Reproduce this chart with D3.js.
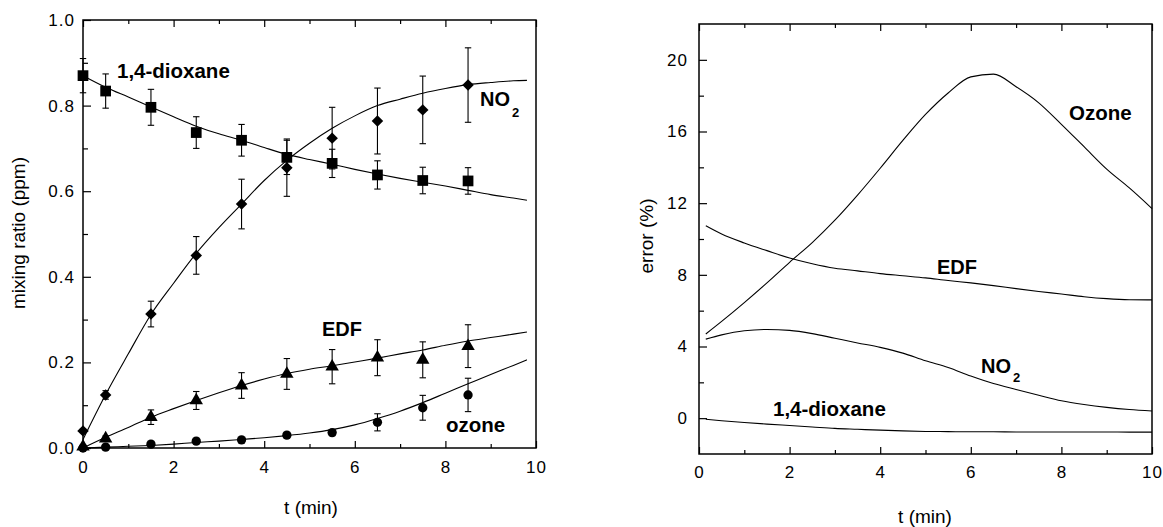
<!DOCTYPE html>
<html>
<head>
<meta charset="utf-8">
<script src="https://cdn.jsdelivr.net/npm/d3@7"></script>
<style>
  html, body { margin: 0; padding: 0; background: #fff; }
  svg { display: block; }
  .tick text { font-family: "Liberation Sans", Arial, sans-serif; font-size: 17px; fill: #000; letter-spacing: 1px; }
  .lbl { font-family: "Liberation Sans", Arial, sans-serif; font-weight: bold; fill: #000; }
  .title { font-family: "Liberation Sans", Arial, sans-serif; font-size: 19px; fill: #000; }
</style>
</head>
<body>
<svg id="chart" width="1163" height="527"></svg>
<script>
// ---------- Left panel: measured points ----------
const tObs = [0, 0.5, 1.5, 2.5, 3.5, 4.5, 5.5, 6.5, 7.5, 8.5];
const dioxaneObs = [0.870, 0.834, 0.796, 0.737, 0.719, 0.679, 0.665, 0.638, 0.625, 0.624];
const dioxaneErr = [0.040, 0.040, 0.042, 0.037, 0.037, 0.040, 0.033, 0.033, 0.031, 0.031];
const no2Obs = [0.040, 0.124, 0.313, 0.450, 0.570, 0.655, 0.724, 0.764, 0.790, 0.848];
const no2Err = [0.004, 0.010, 0.030, 0.044, 0.058, 0.067, 0.072, 0.077, 0.079, 0.087];
const edfObs = [0.003, 0.022, 0.072, 0.111, 0.146, 0.173, 0.190, 0.211, 0.206, 0.238];
const edfErr = [0.000, 0.006, 0.017, 0.021, 0.030, 0.036, 0.040, 0.042, 0.042, 0.050];
const ozoneObs = [0.000, 0.002, 0.009, 0.016, 0.019, 0.030, 0.036, 0.060, 0.094, 0.124];
const ozoneErr = [0.000, 0.000, 0.003, 0.004, 0.004, 0.005, 0.007, 0.020, 0.029, 0.039];

// ---------- Left panel: model curves ----------
const tFit = [0, 0.5, 1, 1.5, 2, 2.5, 3, 3.5, 4, 4.5, 5, 5.5, 6, 6.5, 7, 7.5, 8, 8.5, 9, 9.5, 9.8];
const dioxaneFit = [0.870, 0.843, 0.820, 0.797, 0.774, 0.752, 0.734, 0.719, 0.702, 0.686, 0.674, 0.663, 0.651, 0.640, 0.630, 0.621, 0.612, 0.602, 0.592, 0.584, 0.579];
const no2Fit = [0.020, 0.125, 0.220, 0.312, 0.385, 0.455, 0.515, 0.570, 0.625, 0.672, 0.712, 0.747, 0.776, 0.800, 0.815, 0.829, 0.840, 0.849, 0.854, 0.858, 0.859];
const edfFit = [0.000, 0.025, 0.048, 0.072, 0.092, 0.111, 0.129, 0.146, 0.161, 0.174, 0.184, 0.192, 0.201, 0.210, 0.220, 0.229, 0.240, 0.250, 0.258, 0.266, 0.271];
const ozoneFit = [0.000, 0.002, 0.004, 0.006, 0.009, 0.013, 0.016, 0.020, 0.024, 0.029, 0.035, 0.043, 0.054, 0.069, 0.086, 0.106, 0.128, 0.150, 0.172, 0.193, 0.206];

// ---------- Right panel: error curves ----------
const tErr = [0.15, 0.5, 1, 1.5, 2, 2.5, 3, 3.5, 4, 4.5, 5, 5.5, 6, 6.5, 7, 7.5, 8, 8.5, 9, 9.5, 10];
const ozoneErrPct = [4.7, 5.4, 6.45, 7.55, 8.7, 9.8, 11.05, 12.45, 13.95, 15.5, 16.95, 18.15, 19.05, 19.2, 18.5, 17.6, 16.4, 15.15, 13.9, 12.85, 11.7];
const edfErrPct = [10.74, 10.28, 9.78, 9.35, 8.94, 8.62, 8.37, 8.22, 8.07, 7.95, 7.83, 7.68, 7.55, 7.40, 7.23, 7.07, 6.93, 6.78, 6.67, 6.61, 6.6];
const no2ErrPct = [4.41, 4.65, 4.88, 4.95, 4.9, 4.72, 4.46, 4.2, 3.95, 3.63, 3.2, 2.83, 2.35, 1.93, 1.6, 1.28, 0.97, 0.76, 0.6, 0.48, 0.4];
const dioxaneErrPct = [-0.06, -0.14, -0.24, -0.33, -0.41, -0.49, -0.57, -0.62, -0.67, -0.71, -0.74, -0.75, -0.76, -0.76, -0.77, -0.77, -0.77, -0.77, -0.77, -0.78, -0.78];

// ---------- Tick labels ----------
const xTicks = [0, 2, 4, 6, 8, 10];
const xMinor = [1, 3, 5, 7, 9];
const yTicksL = [0, 0.2, 0.4, 0.6, 0.8, 1.0];
const yMinorL = [0.1, 0.3, 0.5, 0.7, 0.9];
const yTicksR = [0, 4, 8, 12, 16, 20];
const yMinorR = [-2, 2, 6, 10, 14, 18, 22];

const svg = d3.select("#chart");

function frame(g, x, y, yt, ym, fmt, padX, padY) {
  const [x0, x1] = x.range(), [y0, y1] = y.range();
  g.append("g").attr("transform", `translate(0,${y0})`)
    .call(d3.axisBottom(x).tickValues(xTicks).tickSize(-7).tickPadding(padX).tickFormat(d3.format("d")))
    .call(a => a.select(".domain").remove());
  g.append("g").attr("transform", `translate(0,${y0})`)
    .call(d3.axisBottom(x).tickValues(xMinor).tickSize(-4).tickFormat(""))
    .call(a => a.select(".domain").remove());
  g.append("g").attr("transform", `translate(0,${y1})`)
    .call(d3.axisTop(x).tickValues(xTicks).tickSize(-7).tickFormat(""))
    .call(a => a.select(".domain").remove());
  g.append("g").attr("transform", `translate(0,${y1})`)
    .call(d3.axisTop(x).tickValues(xMinor).tickSize(-4).tickFormat(""))
    .call(a => a.select(".domain").remove());
  g.append("g").attr("transform", `translate(${x0},0)`)
    .call(d3.axisLeft(y).tickValues(yt).tickSize(-8).tickPadding(padY).tickFormat(fmt))
    .call(a => a.select(".domain").remove());
  g.append("g").attr("transform", `translate(${x0},0)`)
    .call(d3.axisLeft(y).tickValues(ym.filter(v => v > y.domain()[0] && v < y.domain()[1])).tickSize(-5).tickFormat(""))
    .call(a => a.select(".domain").remove());
  g.selectAll(".tick line").attr("stroke", "#000").attr("stroke-width", 1.2);
  g.append("rect").attr("x", x0).attr("y", y1).attr("width", x1 - x0).attr("height", y0 - y1)
    .attr("fill", "none").attr("stroke", "#000").attr("stroke-width", 1.5);
}

// ---------- Left panel ----------
const xL = d3.scaleLinear().domain([0, 10]).range([83, 536]);
const yL = d3.scaleLinear().domain([0, 1]).range([448, 20]);
const gL = svg.append("g");
frame(gL, xL, yL, yTicksL, yMinorL, d3.format(".1f"), 13, 8);

const lineL = d3.line().x(d => xL(d[0])).y(d => yL(d[1])).curve(d3.curveMonotoneX);
[dioxaneFit, no2Fit, edfFit, ozoneFit].forEach(arr => {
  gL.append("path").attr("d", lineL(tFit.map((t, i) => [t, arr[i]])))
    .attr("fill", "none").attr("stroke", "#000").attr("stroke-width", 1.1);
});

function errBars(g, vals, errs) {
  tObs.forEach((t, i) => {
    if (errs[i] <= 0) return;
    const cx = xL(t), ya = yL(vals[i] + errs[i]), yb = yL(vals[i] - errs[i]);
    g.append("line").attr("x1", cx).attr("x2", cx).attr("y1", ya).attr("y2", yb).attr("stroke", "#000").attr("stroke-width", 1.1);
    [ya, yb].forEach(yy => g.append("line").attr("x1", cx - 3.2).attr("x2", cx + 3.2).attr("y1", yy).attr("y2", yy).attr("stroke", "#000").attr("stroke-width", 1.1));
  });
}
errBars(gL, dioxaneObs, dioxaneErr);
errBars(gL, no2Obs, no2Err);
errBars(gL, edfObs, edfErr);
errBars(gL, ozoneObs, ozoneErr);

function markers(g, vals, type, size) {
  g.selectAll(null).data(tObs.map((t, i) => [t, vals[i]])).enter().append("path")
    .attr("transform", d => `translate(${xL(d[0])},${yL(d[1])})` + (type === "diamond" ? " rotate(45)" : ""))
    .attr("d", d3.symbol().type(type === "diamond" ? d3.symbolSquare : type).size(size))
    .attr("fill", "#000");
}
markers(gL, dioxaneObs, d3.symbolSquare, 115);
markers(gL, no2Obs, "diamond", 66);
markers(gL, edfObs, d3.symbolTriangle, 78);
markers(gL, ozoneObs, d3.symbolCircle, 68);

function label(g, x, y, txt, size, sub) {
  g.append("text").attr("class", "lbl").attr("x", x).attr("y", y).attr("font-size", size).text(txt);
  if (sub) g.append("text").attr("class", "lbl").attr("x", sub[0]).attr("y", sub[1]).attr("font-size", sub[2]).text(sub[3]);
}
label(gL, 117, 77.5, "1,4-dioxane", 20.5);
label(gL, 480, 106, "NO", 20, [512, 117, 13, "2"]);
label(gL, 322, 336, "EDF", 20);
label(gL, 446, 431.5, "ozone", 20.5);

gL.append("text").attr("class", "title").attr("text-anchor", "middle")
  .attr("transform", "translate(25,233) rotate(-90)").text("mixing ratio (ppm)");
gL.append("text").attr("class", "title").attr("text-anchor", "middle")
  .attr("x", 311).attr("y", 514).text("t (min)");

// ---------- Right panel ----------
const xR = d3.scaleLinear().domain([0, 10]).range([699, 1152]);
const yR = d3.scaleLinear().domain([-2, 22]).range([454, 24]);
const gR = svg.append("g");
frame(gR, xR, yR, yTicksR, yMinorR, d3.format("d"), 12, 11);

const lineR = d3.line().x(d => xR(d[0])).y(d => yR(d[1])).curve(d3.curveMonotoneX);
[ozoneErrPct, edfErrPct, no2ErrPct, dioxaneErrPct].forEach(arr => {
  gR.append("path").attr("d", lineR(tErr.map((t, i) => [t, arr[i]])))
    .attr("fill", "none").attr("stroke", "#000").attr("stroke-width", 1.1);
});
label(gR, 1069, 119.5, "Ozone", 20.5);
label(gR, 937, 274, "EDF", 20);
label(gR, 981, 373, "NO", 20, [1013, 382, 13, "2"]);
label(gR, 773, 416, "1,4-dioxane", 20.5);

gR.append("text").attr("class", "title").attr("text-anchor", "middle")
  .attr("transform", "translate(653,236) rotate(-90)").text("error (%)");
gR.append("text").attr("class", "title").attr("text-anchor", "middle")
  .attr("x", 925).attr("y", 523).text("t (min)");
</script>
</body>
</html>
